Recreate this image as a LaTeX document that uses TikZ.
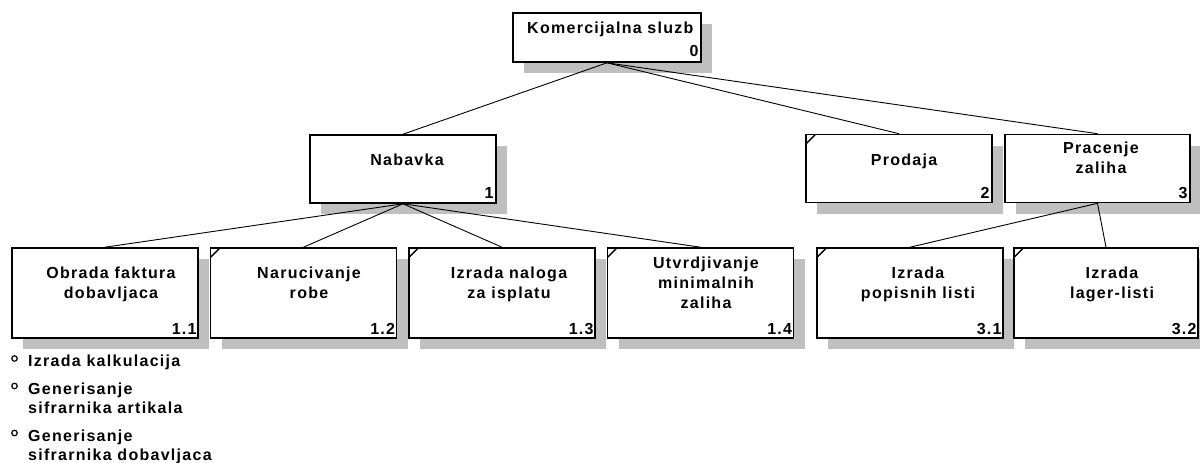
\documentclass[tikz,border=0pt]{standalone}
\usepackage{fontspec}
\setmainfont{Liberation Sans}[LetterSpace=8]
\usetikzlibrary{shadows,calc}

\tikzset{
  lbl/.style={font=\fontsize{16}{20}\selectfont\bfseries, inner sep=0pt, align=center},
  num/.style={font=\fontsize{16}{20}\selectfont\bfseries, inner sep=0pt, anchor=base east},
  note/.style={font=\fontsize{16}{19}\selectfont\bfseries, inner sep=0pt, anchor=base west},
  box/.style={draw, line width=1.6pt, fill=white, inner sep=0pt,
    minimum width=186pt, minimum height=#1,
    drop shadow={shadow xshift=11pt, shadow yshift=-11pt, fill=black!25, opacity=1}},
  conn/.style={line width=0.9pt},
  flag/.style={line width=1.4pt},
  bullet/.style={circle, draw, line width=1.2pt, minimum size=5.5pt, inner sep=0pt},
}

\begin{document}
\begin{tikzpicture}[x=1pt,y=-1pt]
\useasboundingbox (0,0) rectangle (1200,463);

% level 0
\node[box=49pt, minimum width=188pt] (n0) at (607,37.5) {};
% level 1
\node[box=68pt] (n1) at (403,169) {};
\node[box=68pt] (n2) at (899,168.5) {};
\node[box=68pt, minimum width=185pt] (n3) at (1097.5,168.5) {};
% level 2
\node[box=90pt] (n11) at (105,293) {};
\node[box=90pt] (n12) at (303.5,293) {};
\node[box=90pt] (n13) at (502,293) {};
\node[box=90pt] (n14) at (700.5,293) {};
\node[box=90pt] (n31) at (910,293) {};
\node[box=90pt, minimum width=184pt] (n32) at (1106,293) {};

% corner marks
\foreach \n in {n2,n12,n13,n14,n31,n32}
  \draw[flag] ($(\n.north west)+(1,10)$) -- ($(\n.north west)+(10,1)$);

% connectors
\draw[conn] (n0.south) -- (n1.north);
\draw[conn] (n0.south) -- (n2.north);
\draw[conn] (n0.south) -- (n3.north);
\draw[conn] (n1.south) -- (n11.north);
\draw[conn] (n1.south) -- (n12.north);
\draw[conn] (n1.south) -- (n13.north);
\draw[conn] (n1.south) -- (n14.north);
\draw[conn] (n3.south) -- (n31.north);
\draw[conn] (n3.south) -- (n32.north);

% titles
\node[lbl, anchor=north west] (t0) at (527,22) {Komercijalna sluzb};
\node[lbl, anchor=north] (t1) at (407,154) {Nabavka};
\node[lbl, anchor=north] (t2) at (904,154) {Prodaja};
\node[lbl, anchor=north] (t3) at (1101,142) {Pracenje\\zaliha};
\node[lbl, anchor=north] (t11) at (111,267) {Obrada faktura\\dobavljaca};
\node[lbl, anchor=north] (t12) at (309,267) {Narucivanje\\robe};
\node[lbl, anchor=north] (t13) at (509,267) {Izrada naloga\\za isplatu};
\node[lbl, anchor=north] (t14) at (706,257) {Utvrdjivanje\\minimalnih\\zaliha};
\node[lbl, anchor=north] (t31) at (918,267) {Izrada\\popisnih listi};
\node[lbl, anchor=north] (t32) at (1112,267) {Izrada\\lager-listi};

% numbers
\node[num] (k0) at ($(n0.south east)+(-3,-6)$) {0};
\node[num] (k1) at ($(n1.south east)+(-3,-5)$) {1};
\node[num] (k2) at ($(n2.south east)+(-3,-5)$) {2};
\node[num] (k3) at ($(n3.south east)+(-3,-5)$) {3};
\node[num] (k11) at ($(n11.south east)+(-2,-4)$) {1.1};
\node[num] (k12) at ($(n12.south east)+(-2,-4)$) {1.2};
\node[num] (k13) at ($(n13.south east)+(-2,-4)$) {1.3};
\node[num] (k14) at ($(n14.south east)+(-2,-4)$) {1.4};
\node[num] (k31) at ($(n31.south east)+(-2,-4)$) {3.1};
\node[num] (k32) at ($(n32.south east)+(-2,-4)$) {3.2};

% notes below 1.1
\node[bullet] (b1) at (14.5,358.5) {};
\node[note] (m1) at (28,366.5) {Izrada kalkulacija};
\node[bullet] (b2) at (14.5,386) {};
\node[note] (m2a) at (28,394) {Generisanje};
\node[note] (m2b) at (28,413) {sifrarnika artikala};
\node[bullet] (b3) at (14.5,433) {};
\node[note] (m3a) at (28,441) {Generisanje};
\node[note] (m3b) at (28,460) {sifrarnika dobavljaca};
\end{tikzpicture}
\end{document}
